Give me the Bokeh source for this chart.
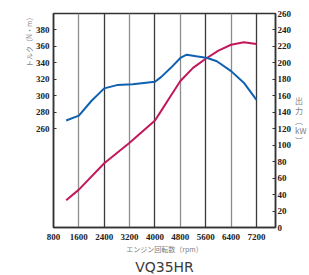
import math
from bokeh.plotting import figure
from bokeh.models import Range1d, LinearAxis, FixedTicker, Grid, Title
from bokeh.embed import file_html
from bokeh.resources import INLINE

rpm_torque = [1200, 1600, 2000, 2400, 2800, 3300, 4000, 4200, 4500, 4800, 5000, 5300, 5650, 5950, 6400, 6800, 7200]
torque = [270, 276, 294, 309, 313, 314, 317, 323, 334, 346, 350, 348, 346, 342, 330, 316, 295]
rpm_power = [1200, 1600, 2400, 3200, 4000, 4200, 4500, 4800, 5200, 5600, 6000, 6400, 6800, 7200]
power = [33, 46, 78, 103, 130, 142, 160, 178, 194, 205, 215, 222, 225, 223]
x_ticks = [800, 1600, 2400, 3200, 4000, 4800, 5600, 6400, 7200]
torque_ticks = [260, 280, 300, 320, 340, 360, 380]
power_ticks = list(range(0, 261, 20))

FONT = "Liberation Sans Narrow"
TICK_COLOR = "#222222"
LBL = "Noto Sans CJK JP"
GRAY = "#808080"

p = figure(width=309, height=275, output_backend="svg", toolbar_location=None,
           x_range=Range1d(800, 7800), y_range=Range1d(140, 400),
           min_border_left=53, min_border_right=34, min_border_top=13, min_border_bottom=48)
p.extra_y_ranges = {"power": Range1d(0, 260)}

p.outline_line_color = "#333333"
p.outline_line_width = 1.5
p.background_fill_color = "white"
p.border_fill_color = "white"

# grids
p.ygrid.visible = False
p.xgrid.ticker = FixedTicker(ticks=[1600, 3200, 4800, 6400])
p.xgrid.grid_line_color = "#8c8c8c"
p.xgrid.grid_line_width = 1.3
g2 = Grid(dimension=0, ticker=FixedTicker(ticks=[2400, 4000, 5600, 7200]),
          grid_line_color="#3a3a3a", grid_line_width=1.3)
p.add_layout(g2)


def style_ticks(ax, standoff):
    ax.major_label_text_font = FONT
    ax.major_label_text_font_size = "9px"
    ax.major_label_text_color = TICK_COLOR
    ax.major_label_text_font_style = "bold"
    ax.major_label_standoff = standoff
    ax.minor_tick_line_color = None
    ax.axis_line_color = "#333333"
    ax.axis_line_width = 1.5
    ax.axis_label_text_font = LBL
    ax.axis_label_text_font_style = "normal"
    ax.axis_label_text_color = GRAY


# x axis
xa = p.xaxis[0]
xa.ticker = FixedTicker(ticks=x_ticks)
style_ticks(xa, 0)
xa.major_tick_line_color = None
xa.axis_label = "エンジン回転数（rpm）"
xa.axis_label_text_font_size = "7px"
xa.axis_label_standoff = 1

# left axis
ya = p.yaxis[0]
ya.ticker = FixedTicker(ticks=torque_ticks)
style_ticks(ya, 4)
ya.major_tick_in = 3
ya.major_tick_out = 0
ya.major_tick_line_color = "#333333"
ya.axis_label = "トルク（N・m）"
ya.axis_label_text_font_size = "7px"
ya.axis_label_standoff = 4
ya.axis_label_orientation = math.pi / 2
ya.axis_label_align = "end"

# right axis
ra = LinearAxis(y_range_name="power", ticker=FixedTicker(ticks=power_ticks))
style_ticks(ra, 2)
ra.major_tick_in = 3
ra.major_tick_out = 0
ra.major_tick_line_color = "#333333"
ra.axis_label = "出\n力\n︵\nkW\n︶"
ra.axis_label_text_font_size = "8px"
ra.axis_label_text_line_height = 0.9
ra.axis_label_orientation = "horizontal"
ra.axis_label_standoff = 1
p.add_layout(ra, "right")

# curves
p.line(rpm_power, power, y_range_name="power", line_color="#c2185b", line_width=2)
p.line(rpm_torque, torque, line_color="#1060b0", line_width=2)

# bottom caption
cap = Title(text="VQ35HR", align="center", offset=7, text_font="DejaVu Sans",
            text_font_size="14px", text_font_style="normal", text_color="#3a3a3a",
            standoff=0, text_line_height=1.0)
p.add_layout(cap, "below")

open("out.html", "w").write(file_html(p, INLINE))
